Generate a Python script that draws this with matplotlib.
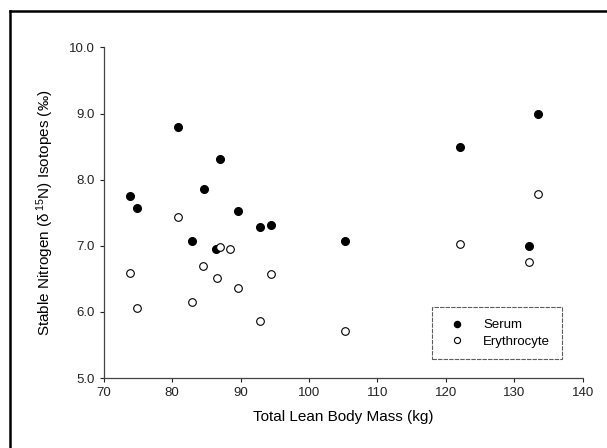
import matplotlib
matplotlib.use("Agg")
import matplotlib.pyplot as plt
from matplotlib.lines import Line2D

plt.rcParams["font.family"] = ["Liberation Sans", "DejaVu Sans"]
plt.rcParams["mathtext.fontset"] = "custom"
plt.rcParams["mathtext.rm"] = "Liberation Sans"
plt.rcParams["mathtext.it"] = "Liberation Sans"

# lean body mass (kg) and d15N values
serum_mass = [73.9, 74.8, 80.9, 82.9, 84.7, 86.4, 87.0, 89.6, 92.8, 94.5, 105.3, 122.1, 132.2, 133.5]
serum_n15 = [7.75, 7.57, 8.79, 7.07, 7.86, 6.95, 8.31, 7.52, 7.28, 7.32, 7.08, 8.50, 7.00, 8.99]

ery_mass = [73.9, 74.8, 80.9, 82.9, 84.5, 86.5, 87.0, 88.4, 89.6, 92.8, 94.5, 105.3, 122.1, 132.2, 133.5]
ery_n15 = [6.59, 6.06, 7.44, 6.15, 6.70, 6.52, 6.99, 6.95, 6.37, 5.86, 6.58, 5.72, 7.03, 6.75, 7.79]

xticks = [70, 80, 90, 100, 110, 120, 130, 140]
yticks = [5.0, 6.0, 7.0, 8.0, 9.0, 10.0]

fig = plt.figure(figsize=(6.07, 4.48), dpi=100)
ax = fig.add_axes([0.171, 0.156, 0.789, 0.738])

ax.plot(serum_mass, serum_n15, "o", color="black", markersize=5.5, label="Serum", ls="none")
ax.plot(ery_mass, ery_n15, "o", markerfacecolor="white", markeredgecolor="black",
        markeredgewidth=0.8, markersize=5.5, label="Erythrocyte", ls="none")

ax.set_xlim(70, 140)
ax.set_ylim(5.0, 10.0)
ax.set_xticks(xticks)
ax.set_yticks(yticks)
ax.set_yticklabels([f"{v:.1f}" for v in yticks])
ax.tick_params(direction="out", length=3, width=0.8, labelsize=9.5, colors="#222222")

for s in ["top", "right"]:
    ax.spines[s].set_visible(False)
for s in ["left", "bottom"]:
    ax.spines[s].set_linestyle((0, (5, 1)))
    ax.spines[s].set_color("#444444")
    ax.spines[s].set_linewidth(0.9)

ax.set_xlabel("Total Lean Body Mass (kg)", fontsize=11, labelpad=8)
ax.set_ylabel(r"Stable Nitrogen ($\delta^{\,15}$N) Isotopes (‰)", fontsize=11, labelpad=9)

leg = ax.legend(loc="center", bbox_to_anchor=(0.693, 0.06, 0.255, 0.151),
                fontsize=9.5, frameon=True, fancybox=False, handletextpad=1.0,
                borderpad=0.9, labelspacing=0.3, markerscale=0.8, borderaxespad=0)
leg.get_frame().set_edgecolor("#333333")
leg.get_frame().set_linestyle((0, (4, 1)))
leg.get_frame().set_linewidth(0.8)

# scanned page border: only the left and top edges are in the picture
fig.lines.append(Line2D([9.5 / 607, 9.5 / 607], [0, 1 - 11.5 / 448], transform=fig.transFigure,
                        color="black", linewidth=1.8))
fig.lines.append(Line2D([9.5 / 607, 1], [1 - 11.5 / 448, 1 - 11.5 / 448], transform=fig.transFigure,
                        color="black", linewidth=1.8))

fig.savefig("out.png", dpi=100)
